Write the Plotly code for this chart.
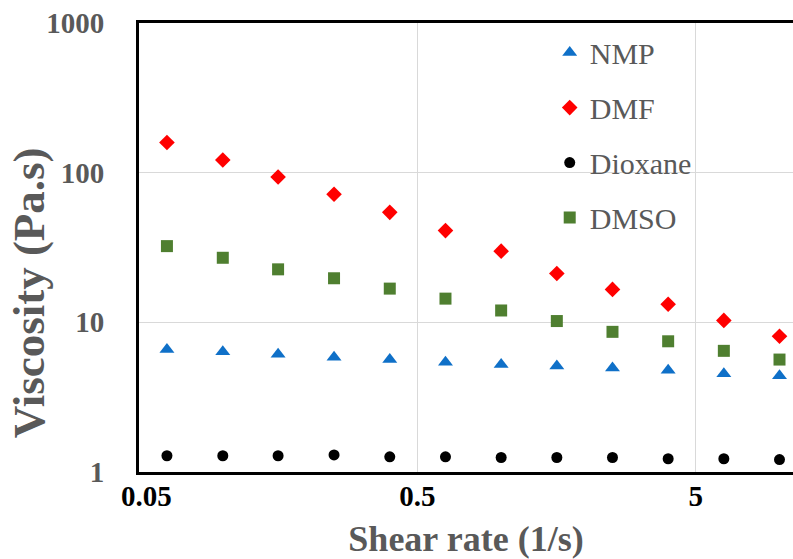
import plotly.graph_objects as go
import math

shear_rate = [0.063, 0.1, 0.158, 0.251, 0.398, 0.631, 1.0, 1.585, 2.512, 3.981, 6.31, 10.0]
nmp = [6.58, 6.35, 6.12, 5.84, 5.64, 5.42, 5.22, 5.11, 4.96, 4.78, 4.54, 4.40]
dmf = [159, 121.6, 93.5, 71.7, 54.3, 41.0, 29.9, 21.2, 16.6, 13.2, 10.3, 8.07]
dioxane = [1.284, 1.284, 1.284, 1.30, 1.264, 1.264, 1.25, 1.25, 1.25, 1.226, 1.226, 1.21]
dmso = [32.3, 27.0, 22.6, 19.7, 16.8, 14.4, 12.0, 10.2, 8.64, 7.47, 6.45, 5.64]

x_tickvals = [0.05, 0.5, 5]
x_ticktext = ["\u00a0\u00a00.05", "0.5", "5"]
y_tickvals = [1, 10, 100, 1000]
y_ticktext = ["1", "10", "100", "1000"]

FONT = "Liberation Serif, Times New Roman, serif"
GRAY = "#595959"

series = [
    ("NMP", nmp, "triangle-up", "#0F70C8", 13),
    ("DMF", dmf, "diamond", "#FF0000", 12),
    ("Dioxane", dioxane, "circle", "#000000", 11),
    ("DMSO", dmso, "square", "#4F7F30", 12),
]

fig = go.Figure()
for name, vals, sym, col, sz in series:
    fig.add_trace(go.Scatter(
        x=shear_rate, y=vals, mode="markers", name=name, legendgroup=name,
        marker=dict(symbol=sym, color=col, size=sz, line=dict(width=0)),
    ))

fig.update_layout(
    width=793, height=559,
    margin=dict(l=139, r=0, t=23, b=87),
    paper_bgcolor="white", plot_bgcolor="white",
    font=dict(family=FONT, color=GRAY),
    showlegend=True,
    legend=dict(
        x=0.628, y=0.992, xanchor="left", yanchor="top",
        font=dict(family=FONT, size=30, color=GRAY),
        tracegroupgap=13, bgcolor="rgba(0,0,0,0)",
    ),
    annotations=[dict(
        text="<b>Viscosity (Pa.s)</b>", textangle=-90,
        xref="paper", yref="paper", x=-0.167, y=0.40,
        xanchor="center", yanchor="middle", showarrow=False,
        font=dict(family=FONT, size=45, color=GRAY),
    )],
)

fig.update_xaxes(
    type="log", range=[math.log10(0.05), 1.0485],
    tickvals=x_tickvals, ticktext=x_ticktext,
    tickfont=dict(family=FONT, size=29, color="black", weight="bold"),
    ticks="", ticklabelstandoff=-4,
    showgrid=True, gridcolor="#D9D9D9", gridwidth=1,
    showline=True, linecolor="black", linewidth=3, mirror=True,
    zeroline=False,
    title=dict(text="Shear rate (1/s)", standoff=17,
               font=dict(family=FONT, size=36, color=GRAY, weight="bold")),
)
fig.update_yaxes(
    type="log", range=[0, 3],
    tickvals=y_tickvals, ticktext=y_ticktext,
    tickfont=dict(family=FONT, size=29, color=GRAY, weight="bold"),
    ticks="", ticklabelstandoff=26,
    showgrid=True, gridcolor="#D9D9D9", gridwidth=1,
    showline=True, linecolor="black", linewidth=3, mirror=False,
    zeroline=False,
)

fig.write_html("out.html")
